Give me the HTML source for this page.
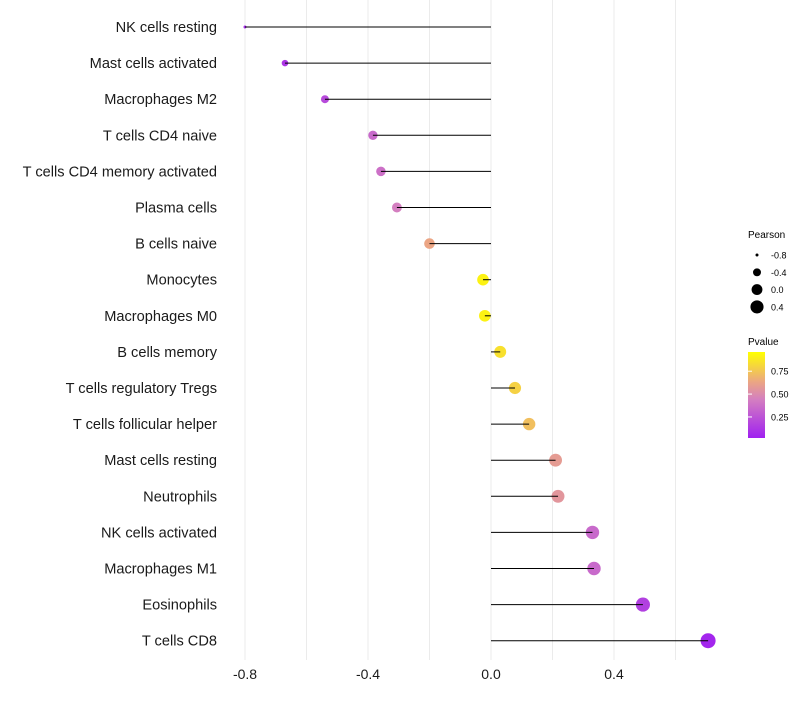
<!DOCTYPE html>
<html><head><meta charset="utf-8"><style>
body{margin:0;background:#fff;font-family:"Liberation Sans",sans-serif}
svg text{font-family:"Liberation Sans",sans-serif}
</style></head><body>
<svg id="chart" width="800" height="700" viewBox="0 0 800 700">
<defs><linearGradient id="pg" x1="0" y1="1" x2="0" y2="0">
<stop offset="0" stop-color="#A020F0"/><stop offset="0.45" stop-color="#D47FC0"/><stop offset="0.65" stop-color="#EBA584"/><stop offset="1" stop-color="#FFFF00"/>
</linearGradient></defs>
<g id="grid"></g>
<g id="marks"></g>
<g id="ylabels"></g>
<g id="xlabels"></g>
<g>
<text x="748" y="238" font-size="10">Pearson</text>
<g id="sizeleg"></g>
</g>
<g>
<text x="748" y="345" font-size="10">Pvalue</text>
<rect x="748" y="352" width="17" height="86" fill="url(#pg)"/>
<g id="colleg"></g>
</g>
</svg>
<script>
const categories=["NK cells resting","Mast cells activated","Macrophages M2","T cells CD4 naive","T cells CD4 memory activated","Plasma cells","B cells naive","Monocytes","Macrophages M0","B cells memory","T cells regulatory  Tregs ","T cells follicular helper","Mast cells resting","Neutrophils","NK cells activated","Macrophages M1","Eosinophils","T cells CD8"];
const pearson=[-0.80,-0.67,-0.54,-0.384,-0.358,-0.306,-0.20,-0.026,-0.02,0.03,0.078,0.124,0.21,0.218,0.33,0.335,0.494,0.706];
const pvalue=[0.05,0.1,0.2,0.35,0.38,0.45,0.65,0.95,0.95,0.88,0.82,0.75,0.6,0.57,0.35,0.35,0.15,0.03];
const xTicks=[-0.8,-0.4,0.0,0.4];
const xTickLabels=["-0.8","-0.4","0.0","0.4"];
const gridVals=[-0.8,-0.6,-0.4,-0.2,0,0.2,0.4,0.6];
const sizeLegVals=[-0.8,-0.4,0.0,0.4];
const colLegVals=[0.75,0.5,0.25];
const NS="http://www.w3.org/2000/svg";
const x=v=>491+v*307.5;
const y=i=>27+i*36.1;
const r=v=>1.5+6*Math.sqrt(Math.max(0,(v+0.8)/1.5));
const stops=[[0,[160,32,240]],[0.45,[212,127,192]],[0.65,[235,165,132]],[1,[255,255,0]]];
function col(p){for(let k=1;k<stops.length;k++){if(p<=stops[k][0]){const a=stops[k-1],b=stops[k],t=(p-a[0])/(b[0]-a[0]);return "rgb("+a[1].map((c,j)=>Math.round(c+(b[1][j]-c)*t)).join(",")+")";}}return "rgb(255,255,0)";}
function mk(t,attrs,parent){const e=document.createElementNS(NS,t);for(const k in attrs)e.setAttribute(k,attrs[k]);document.getElementById(parent).appendChild(e);return e;}
gridVals.forEach(v=>{const l=mk("line",{x1:x(v),x2:x(v),y1:0,y2:660,stroke:"#ebebeb","stroke-width":1},"grid");

});
categories.forEach((c,i)=>{
const p=mk("circle",{cx:x(pearson[i]),cy:y(i),r:r(pearson[i]),fill:col(pvalue[i])},"marks");


const l=mk("line",{x1:x(0),x2:x(pearson[i]),y1:y(i),y2:y(i),stroke:"#000","stroke-width":1},"marks");


const t=mk("text",{x:217,y:y(i)+5,"text-anchor":"end","font-size":14.6,fill:"#1a1a1a"},"ylabels");
t.textContent=c;


});
xTicks.forEach((v,i)=>{const t=mk("text",{x:x(v),y:679,"text-anchor":"middle","font-size":14,fill:"#1a1a1a"},"xlabels");
t.textContent=xTickLabels[i];

});
sizeLegVals.forEach((v,i)=>{const cy=255+i*17.3;
const c=mk("circle",{cx:757,cy:cy,r:Math.sqrt(2.25+34*(v+0.8)),fill:"#000"},"sizeleg");


const t=mk("text",{x:771,y:cy+3.5,"font-size":9},"sizeleg");
t.textContent=v.toFixed(1);

});
colLegVals.forEach(v=>{const cy=438-(v-0.02)/0.94*86;
const l=mk("line",{x1:748,x2:752,y1:cy,y2:cy,stroke:"#fff"},"colleg");


const t=mk("text",{x:771,y:cy+3.5,"font-size":9},"colleg");
t.textContent=v.toFixed(2);

});
</script>
</body></html>
